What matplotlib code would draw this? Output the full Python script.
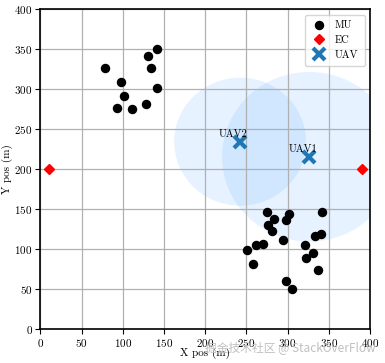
import matplotlib
matplotlib.use("Agg")
import matplotlib.pyplot as plt
from matplotlib.patches import Circle

plt.rcParams['font.family'] = ['cmr10', 'DejaVu Serif']
plt.rcParams['mathtext.fontset'] = 'cm'
plt.rcParams['axes.unicode_minus'] = False
plt.rcParams['axes.formatter.use_mathtext'] = True

mu_x = [141.2, 131, 78.5, 134.3, 97.5, 141.2, 101, 128.2, 92.7, 111.6,
        274.6, 301.3, 342, 283, 298.4, 276.5, 281.4, 333.2, 340.8, 294,
        269.7, 261.3, 321.4, 250.7, 331, 322.6, 258.4, 337.2, 298, 305.3]
mu_y = [350, 341.6, 327, 327, 309.5, 301.3, 291.6, 281.6, 277, 275.7,
        147, 143.7, 146.6, 137.5, 136.6, 130.7, 122.9, 116.6, 118.7, 111.2,
        107, 105, 105, 99, 95, 89.5, 82, 74, 60, 50.7]
ec_x = [10, 390]
ec_y = [200, 200]
uav_x = [326.5, 242.4]
uav_y = [215.7, 234.5]
uav_names = ['UAV1', 'UAV2']
uav_radius = [106, 80]

fig = plt.figure(figsize=(3.85, 3.63), dpi=100)
ax = fig.add_axes([0.1047, 0.0928, 0.8563, 0.8816])

for cx, cy, r in zip(uav_x, uav_y, uav_radius):
    ax.add_patch(Circle((cx, cy), r, facecolor='#1e90ff', alpha=0.11,
                        edgecolor='none', zorder=1))

ax.plot(mu_x, mu_y, 'o', color='black', markersize=5.8, label='MU', zorder=3)
ax.plot(ec_x, ec_y, 'D', color='red', markersize=5.5, label='EC', zorder=3)
ax.plot(uav_x, uav_y, 'x', color='#1f77b4', markersize=8, mew=3,
        label='UAV', zorder=4)
for x, y, n in zip(uav_x, uav_y, uav_names):
    ax.text(x - 8, y + 3, n, ha='center', va='bottom', fontsize=7.5, zorder=5)

ax.set_xlim(0, 400)
ax.set_ylim(0, 400)
ax.set_xticks(range(0, 401, 50))
ax.set_yticks(range(0, 401, 50))
ax.grid(True, color='#b0b0b0', linewidth=0.9)
ax.tick_params(labelsize=8, length=3.5, width=0.8, pad=2)
for s in ax.spines.values():
    s.set_linewidth(1.2)
    s.set_color('black')
ax.set_xlabel('X pos (m)', fontsize=8, labelpad=-1)
ax.set_ylabel('Y pos (m)', fontsize=8, labelpad=1)
leg = ax.legend(loc='upper right', fontsize=7.5, handlelength=1.5,
                borderpad=0.6, labelspacing=0.5)

fig.text(0.975, 0.025, '掘金技术社区 @ StackOverFlow', ha='right', va='bottom',
         fontsize=8.5, color='#c0c0c0',
         family=['Noto Sans CJK SC', 'DejaVu Sans'])

fig.savefig('out.png', dpi=100)
